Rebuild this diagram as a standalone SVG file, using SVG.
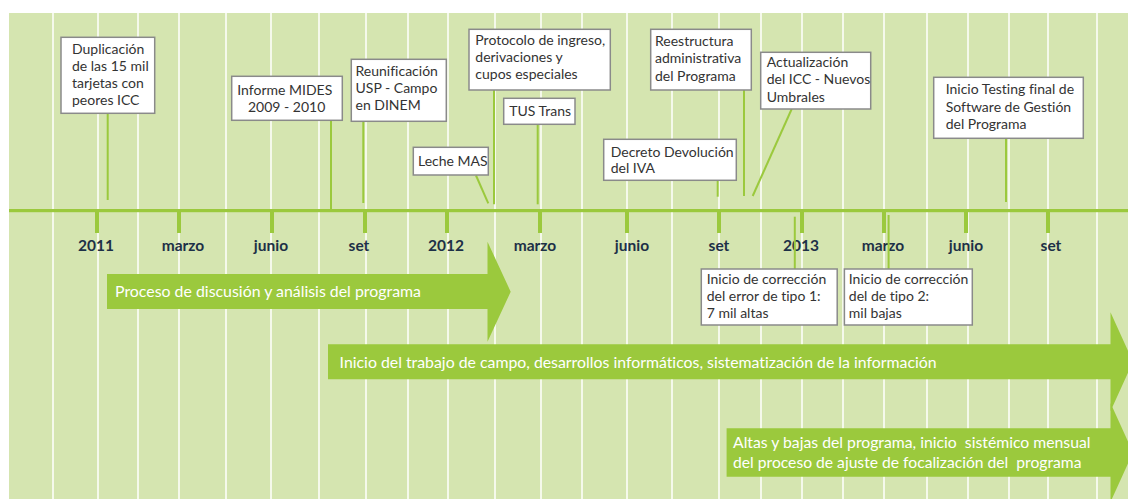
<svg xmlns="http://www.w3.org/2000/svg" width="1128" height="499" viewBox="0 0 1128 499">
<style>
text{font-variant-ligatures:none;font-feature-settings:"liga" 0,"dlig" 0}
.grid line{stroke:#ffffff;stroke-width:1.5}
.box{fill:#ffffff;stroke:#8a8a8a;stroke-width:1.5}
.bt{font-family:Lato,"Liberation Sans",sans-serif;font-size:14px;fill:#333333}
.lead{stroke:#9bc93d;stroke-width:2;fill:none}
.tick{fill:#9bc93d}
.ax{font-family:Lato,"Liberation Sans",sans-serif;font-size:15.5px;font-weight:bold;fill:#1d3047;text-anchor:middle}
.arrow{fill:#9bc93d}
.at{font-family:Lato,"Liberation Sans",sans-serif;font-size:15px;fill:#ffffff;white-space:pre}
</style>
<rect x="0" y="0" width="1128" height="499" fill="#ffffff"/>
<rect x="9" y="13" width="1119" height="486" fill="#d5e5b0"/>
<g class="grid">
<line x1="53" y1="13" x2="53" y2="499"/><line x1="98" y1="13" x2="98" y2="499"/><line x1="138" y1="13" x2="138" y2="499"/><line x1="179" y1="13" x2="179" y2="499"/><line x1="226" y1="13" x2="226" y2="499"/><line x1="271" y1="13" x2="271" y2="499"/><line x1="319" y1="13" x2="319" y2="499"/><line x1="366" y1="13" x2="366" y2="499"/><line x1="408" y1="13" x2="408" y2="499"/><line x1="448" y1="13" x2="448" y2="499"/><line x1="495" y1="13" x2="495" y2="499"/><line x1="541" y1="13" x2="541" y2="499"/><line x1="582" y1="13" x2="582" y2="499"/><line x1="627" y1="13" x2="627" y2="499"/><line x1="672" y1="13" x2="672" y2="499"/><line x1="719" y1="13" x2="719" y2="499"/><line x1="761" y1="13" x2="761" y2="499"/><line x1="802" y1="13" x2="802" y2="499"/><line x1="843" y1="13" x2="843" y2="499"/><line x1="884" y1="13" x2="884" y2="499"/><line x1="927" y1="13" x2="927" y2="499"/><line x1="968" y1="13" x2="968" y2="499"/><line x1="1009" y1="13" x2="1009" y2="499"/><line x1="1048" y1="13" x2="1048" y2="499"/><line x1="1097" y1="13" x2="1097" y2="499"/>
</g>
<g id="axis">
<rect x="9" y="209" width="1119" height="3.2" fill="#9bc93d"/>
<rect class="tick" x="95" y="210" width="4" height="23"/><rect class="tick" x="177" y="210" width="4" height="23"/><rect class="tick" x="270" y="210" width="4" height="23"/><rect class="tick" x="363" y="210" width="4" height="23"/><rect class="tick" x="445" y="210" width="4" height="23"/><rect class="tick" x="538" y="210" width="4" height="23"/><rect class="tick" x="625" y="210" width="4" height="23"/><rect class="tick" x="717" y="210" width="4" height="23"/><rect class="tick" x="800" y="210" width="4" height="23"/><rect class="tick" x="882" y="210" width="4" height="23"/><rect class="tick" x="964" y="210" width="4" height="23"/><rect class="tick" x="1046" y="210" width="4" height="23"/>
<text class="ax" x="96" y="250.5">2011</text><text class="ax" x="183" y="250.5">marzo</text><text class="ax" x="271" y="250.5">junio</text><text class="ax" x="359" y="250.5">set</text><text class="ax" x="446" y="250.5">2012</text><text class="ax" x="535" y="250.5">marzo</text><text class="ax" x="632" y="250.5">junio</text><text class="ax" x="719" y="250.5">set</text><text class="ax" x="801" y="250.5">2013</text><text class="ax" x="883" y="250.5">marzo</text><text class="ax" x="966" y="250.5">junio</text><text class="ax" x="1051" y="250.5">set</text>
</g>
<g id="connectors">
<line class="lead" x1="107.7" y1="113" x2="107.7" y2="200"/>
<line class="lead" x1="331" y1="121" x2="331" y2="209"/>
<line class="lead" x1="363.3" y1="122" x2="363.3" y2="203"/>
<line class="lead" x1="476" y1="175.5" x2="488.3" y2="203.3"/>
<line class="lead" x1="494" y1="90" x2="494" y2="204.3"/>
<line class="lead" x1="537.7" y1="124.5" x2="537.7" y2="204.3"/>
<line class="lead" x1="717.7" y1="181" x2="717.7" y2="196.7"/>
<line class="lead" x1="744" y1="90" x2="744" y2="196"/>
<line class="lead" x1="791.7" y1="109" x2="752.7" y2="196"/>
<line class="lead" x1="1006" y1="138.5" x2="1006" y2="202"/>
<line class="lead" x1="794.8" y1="216.7" x2="794.8" y2="269"/>
<line class="lead" x1="888.6" y1="215" x2="888.6" y2="269"/>
</g>
<g id="n1"><rect class="box" x="61" y="37.3" width="93.7" height="76"/><text class="bt"><tspan x="72" y="53.5">Duplicación</tspan><tspan x="72" y="70.5">de las 15 mil</tspan><tspan x="72" y="87.5">tarjetas con</tspan><tspan x="72" y="104.5">peores ICC</tspan></text></g>
<g id="n2"><rect class="box" x="231.7" y="76.3" width="110.6" height="44"/><text class="bt"><tspan x="237.3" y="95">Informe MIDES</tspan><tspan x="248" y="112">2009 - 2010</tspan></text></g>
<g id="n3"><rect class="box" x="351.3" y="59.3" width="95" height="62"/><text class="bt"><tspan x="355.5" y="75.5">Reunificación</tspan><tspan x="355.5" y="92.7">USP - Campo</tspan><tspan x="355.5" y="110">en DINEM</tspan></text></g>
<g id="n4"><rect class="box" x="413.3" y="147.3" width="75" height="27.7"/><text class="bt" x="418" y="165.5">Leche MAS</text></g>
<g id="n5"><rect class="box" x="469" y="29.3" width="141.3" height="60.7"/><text class="bt"><tspan x="475.3" y="44.5">Protocolo de ingreso,</tspan><tspan x="475.3" y="61.7">derivaciones y</tspan><tspan x="475.3" y="79">cupos especiales</tspan></text></g>
<g id="n6"><rect class="box" x="503.7" y="98.3" width="71.3" height="26"/><text class="bt" x="509.3" y="116">TUS Trans</text></g>
<g id="n7"><rect class="box" x="603.7" y="139.3" width="132.6" height="41"/><text class="bt"><tspan x="610.7" y="156.7">Decreto Devolución</tspan><tspan x="610.7" y="173.3">del IVA</tspan></text></g>
<g id="n8"><rect class="box" x="650.7" y="29.3" width="100.6" height="60.7"/><text class="bt"><tspan x="655" y="45.7">Reestructura</tspan><tspan x="655" y="63.3">administrativa</tspan><tspan x="655" y="81">del Programa</tspan></text></g>
<g id="n9"><rect class="box" x="760.7" y="52.3" width="110" height="56.7"/><text class="bt"><tspan x="766.7" y="66.7">Actualización</tspan><tspan x="766.7" y="84.3">del ICC - Nuevos</tspan><tspan x="766.7" y="101.7">Umbrales</tspan></text></g>
<g id="n10"><rect class="box" x="933.7" y="77.3" width="149.6" height="61"/><text class="bt"><tspan x="945.7" y="94">Inicio Testing final de</tspan><tspan x="945.7" y="111.7">Software de Gestión</tspan><tspan x="945.7" y="129">del Programa</tspan></text></g>
<g id="n11"><rect class="box" x="701.3" y="269" width="135.9" height="56"/><text class="bt"><tspan x="706.7" y="284">Inicio de corrección</tspan><tspan x="706.7" y="301">del error de tipo 1:</tspan><tspan x="706.7" y="318">7 mil altas</tspan></text></g>
<g id="n12"><rect class="box" x="844.4" y="269" width="127.9" height="56"/><text class="bt"><tspan x="848.8" y="284">Inicio de corrección</tspan><tspan x="848.8" y="301">del de tipo 2:</tspan><tspan x="848.8" y="318">mil bajas</tspan></text></g>
<g id="a1"><polygon class="arrow" points="107,274 487.5,274 487.5,241.7 510.7,291.7 487.5,341.7 487.5,309 107,309"/><text class="at" x="115" y="297" textLength="306" lengthAdjust="spacingAndGlyphs">Proceso de discusión y análisis del programa</text></g>
<g id="a2"><polygon class="arrow" points="328,344.3 1110.5,344.3 1110.5,312.3 1133,361.8 1110.5,411.3 1110.5,379.3 328,379.3"/><text class="at" x="339.6" y="367.5" textLength="597" lengthAdjust="spacingAndGlyphs">Inicio del trabajo de campo, desarrollos informáticos, sistematización de la información</text></g>
<g id="a3"><polygon class="arrow" points="726.6,428.3 1110.5,428.3 1110.5,403 1133,452.5 1110.5,502 1110.5,476.7 726.6,476.7"/><text class="at" x="733" y="448" textLength="357.5" lengthAdjust="spacingAndGlyphs">Altas y bajas del programa, inicio  sistémico mensual</text><text class="at" x="733" y="467.5" textLength="348.5" lengthAdjust="spacingAndGlyphs">del proceso de ajuste de focalización del  programa</text></g>
</svg>
